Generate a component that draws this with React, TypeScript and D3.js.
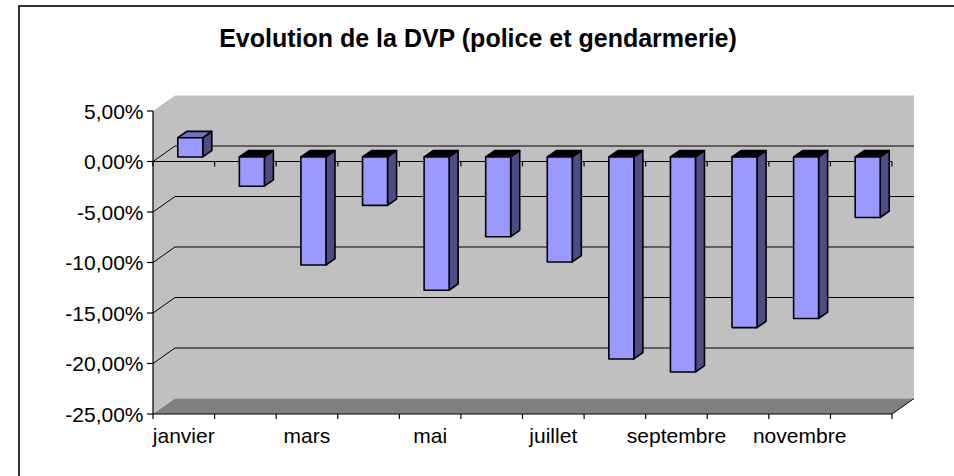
import React from "react";
import * as d3 from "d3";

const months = ["janvier", "février", "mars", "avril", "mai", "juin", "juillet", "août", "septembre", "octobre", "novembre", "décembre"];
const values = [1.9, -2.9, -10.7, -4.8, -13.2, -7.9, -10.4, -20.0, -21.3, -16.9, -16.0, -6.0];
const yTicks = [5, 0, -5, -10, -15, -20, -25];
const title = "Evolution de la DVP (police et gendarmerie)";

const W = 954;
const H = 476;
const FONT = "'Liberation Sans', Arial, sans-serif";

const locale = d3.formatLocale({ decimal: ",", thousands: " ", grouping: [3], currency: ["", "€"], minus: "-" });
const fmt = locale.format(".2f");

export default function App() {
  const x = d3.scaleBand<string>().domain(months).range([153, 892]).padding(0);
  const y = d3.scaleLinear().domain([-25, 5]).range([414, 111]);
  const DX = 22;
  const DY = -15.5;
  const bw = x.bandwidth();
  const barW = bw * 0.406;
  const frontF = 0.295;
  const depthF = 0.41;
  const fdx = DX * frontF;
  const fdy = DY * frontF;
  const bdx = DX * depthF;
  const bdy = DY * depthF;
  const [x0, x1] = x.range();
  const yTop = y(5);
  const yBot = y(-25);

  const pts = (a: number[][]) => a.map((p) => p.join(",")).join(" ");

  return (
    <svg width={W} height={H} style={{ position: "absolute", left: 0, top: 0, background: "#fff" }}>
      <rect x={19} y={6} width={W + 20} height={H + 20} fill="#fff" stroke="#000" strokeWidth={1.6} />
      <text x={478} y={47} textAnchor="middle" fontFamily={FONT} fontWeight="bold" fontSize={25}>
        {title}
      </text>
      {/* walls */}
      <polygon points={pts([[x0, yTop], [x0 + DX, yTop + DY], [x0 + DX, yBot + DY], [x0, yBot]])} fill="#c0c0c0" />
      <rect x={x0 + DX} y={yTop + DY} width={x1 - x0} height={yBot - yTop} fill="#c0c0c0" />
      <polygon points={pts([[x0, yBot], [x0 + DX, yBot + DY], [x1 + DX, yBot + DY], [x1, yBot]])} fill="#808080" />
      {/* gridlines */}
      {yTicks.filter((t) => t !== 5 && t !== -25).map((t) => (
        <g key={"g" + t}>
          <line x1={x0} y1={y(t)} x2={x0 + DX} y2={y(t) + DY} stroke="#000" strokeWidth={1} />
          <line x1={x0 + DX} y1={y(t) + DY} x2={x1 + DX} y2={y(t) + DY} stroke="#000" strokeWidth={1} />
        </g>
      ))}
      {/* floor right edge */}
      <line x1={x1} y1={yBot} x2={x1 + DX} y2={yBot + DY} stroke="#000" strokeWidth={1} />
      {/* value axis */}
      <line x1={x0} y1={yTop} x2={x0} y2={yBot} stroke="#000" strokeWidth={1.2} />
      {yTicks.map((t) => (
        <g key={"t" + t}>
          <line x1={x0 - 6} y1={y(t)} x2={x0} y2={y(t)} stroke="#000" strokeWidth={1.2} />
          <text x={143.5} y={y(t) + 7.7} textAnchor="end" fontFamily={FONT} fontSize={21}>
            {fmt(t) + "%"}
          </text>
        </g>
      ))}
      {/* category axes */}
      {[0, -25].map((lv) => (
        <g key={"c" + lv}>
          <line x1={x0} y1={y(lv)} x2={x1} y2={y(lv)} stroke="#000" strokeWidth={1.2} />
          {months.map((m) => (
            <line key={m} x1={(x(m) as number) + bw} y1={y(lv)} x2={(x(m) as number) + bw} y2={y(lv) + 5} stroke="#000" strokeWidth={1.2} />
          ))}
          <line x1={x0} y1={y(lv)} x2={x0} y2={y(lv) + 5} stroke="#000" strokeWidth={1.2} />
        </g>
      ))}
      {months.map((m, i) =>
        i % 2 === 0 ? (
          <text key={"l" + m} x={(x(m) as number) + bw / 2} y={443} textAnchor="middle" fontFamily={FONT} fontSize={21}>
            {m}
          </text>
        ) : null
      )}
      {/* bars */}
      {months.map((m, i) => {
        const v = values[i];
        const cx = (x(m) as number) + bw / 2 + fdx;
        const L = cx - barW / 2;
        const R = cx + barW / 2;
        const yz = y(0) + fdy;
        const yv = y(v) + fdy;
        const top = Math.min(yz, yv);
        const bot = Math.max(yz, yv);
        return (
          <g key={"b" + m} stroke="#000" strokeWidth={1.6} strokeLinejoin="round">
            <polygon points={pts([[R, top], [R + bdx, top + bdy], [R + bdx, bot + bdy], [R, bot]])} fill="#4d4d85" />
            <polygon points={pts([[L, top], [L + bdx, top + bdy], [R + bdx, top + bdy], [R, top]])} fill={v < 0 ? "#000" : "#7373bf"} />
            <rect x={L} y={top} width={R - L} height={bot - top} fill="#9999ff" />
          </g>
        );
      })}
    </svg>
  );
}
